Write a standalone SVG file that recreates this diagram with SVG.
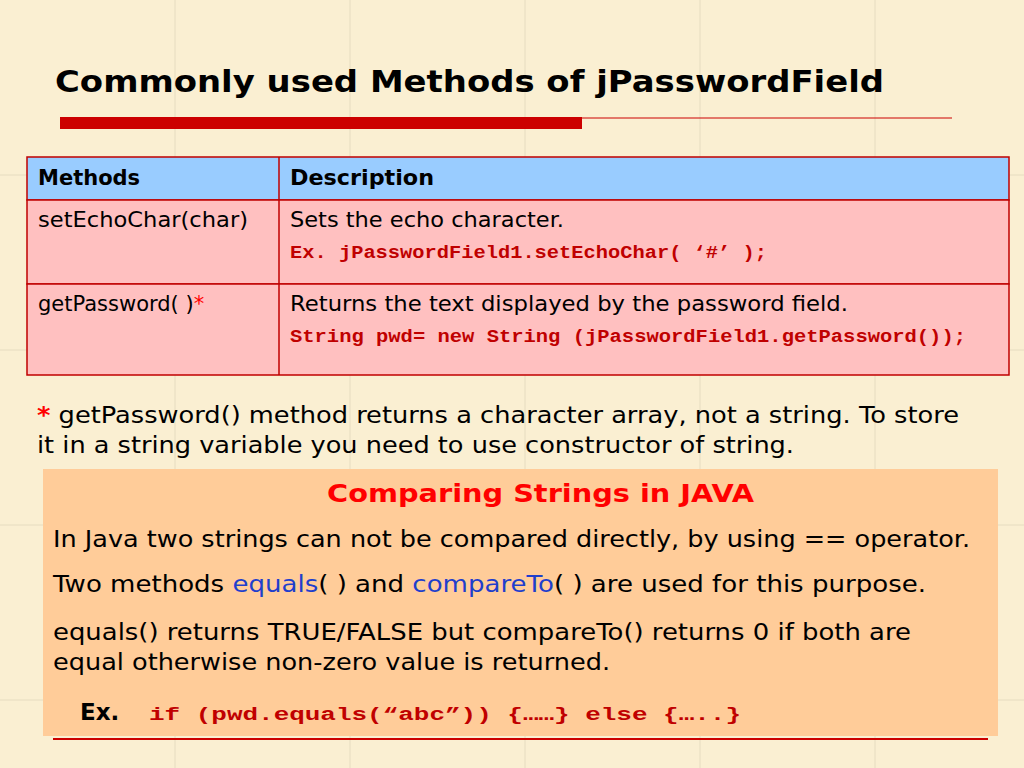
<svg xmlns="http://www.w3.org/2000/svg" width="1024" height="768" viewBox="0 0 1024 768">
<style>
.b{font-family:"DejaVu Sans",Verdana,sans-serif;fill:#000}
.m{font-family:"Liberation Mono",monospace;font-weight:bold;fill:#c00000;font-size:19px}
.g{stroke:#e6dcc0;stroke-width:1}
</style>
<rect width="1024" height="768" fill="#faefd2"/>
<g class="g">
<line x1="175" y1="0" x2="175" y2="768"/><line x1="350" y1="0" x2="350" y2="768"/><line x1="525" y1="0" x2="525" y2="768"/><line x1="700" y1="0" x2="700" y2="768"/><line x1="875" y1="0" x2="875" y2="768"/>
<line x1="0" y1="175" x2="1024" y2="175"/><line x1="0" y1="350" x2="1024" y2="350"/><line x1="0" y1="525" x2="1024" y2="525"/><line x1="0" y1="700" x2="1024" y2="700"/>
</g>
<g id="title">
<text x="55" y="92" class="b" font-size="30" font-weight="bold" textLength="829" lengthAdjust="spacingAndGlyphs">Commonly used Methods of jPasswordField</text>
<rect x="60" y="117" width="522" height="12" fill="#cc0000"/>
<line x1="582" y1="118" x2="952" y2="118" stroke="#cc0000" stroke-width="1"/>
</g>
<g id="table" stroke="#c00000" stroke-width="1.5">
<rect x="27" y="157" width="982" height="43" fill="#99ccff"/>
<rect x="27" y="200" width="982" height="84" fill="#ffc0c0"/>
<rect x="27" y="284" width="982" height="91" fill="#ffc0c0"/>
<line x1="279" y1="157" x2="279" y2="375"/>
</g>
<g id="tabletext">
<text x="38" y="185" class="b" font-size="21" font-weight="bold">Methods</text>
<text x="290" y="185" class="b" font-size="21" font-weight="bold" textLength="144" lengthAdjust="spacingAndGlyphs">Description</text>
<text x="38" y="227" class="b" font-size="21" textLength="210" lengthAdjust="spacingAndGlyphs">setEchoChar(char)</text>
<text x="290" y="227" class="b" font-size="21" textLength="274" lengthAdjust="spacingAndGlyphs">Sets the echo character.</text>
<text x="290" y="258" class="m" textLength="477" lengthAdjust="spacingAndGlyphs">Ex. jPasswordField1.setEchoChar( ‘#’ );</text>
<text x="38" y="311" class="b" font-size="21">getPassword( )<tspan fill="#ff0000">*</tspan></text>
<text x="290" y="311" class="b" font-size="21" textLength="558" lengthAdjust="spacingAndGlyphs">Returns the text displayed by the password field.</text>
<text x="290" y="342" class="m" textLength="676" lengthAdjust="spacingAndGlyphs">String pwd= new String (jPasswordField1.getPassword());</text>
</g>
<g id="note">
<text x="37" y="423" class="b" font-size="23" textLength="922" lengthAdjust="spacingAndGlyphs"><tspan fill="#ff0000" font-weight="bold">*</tspan> getPassword() method returns a character array, not a string. To store</text>
<text x="37" y="453" class="b" font-size="23" textLength="757" lengthAdjust="spacingAndGlyphs">it in a string variable you need to use constructor of string.</text>
</g>
<g id="box">
<rect x="43" y="469" width="955" height="267" fill="#ffcc99"/>
<line x1="53" y1="739" x2="988" y2="739" stroke="#cc0000" stroke-width="2"/>
<text x="327" y="502" class="b" font-size="25" font-weight="bold" style="fill:#ff0000" textLength="427" lengthAdjust="spacingAndGlyphs">Comparing Strings in JAVA</text>
<text x="53" y="547" class="b" font-size="23" textLength="917" lengthAdjust="spacingAndGlyphs">In Java two strings can not be compared directly, by using == operator.</text>
<text x="53" y="592" class="b" font-size="23" textLength="873" lengthAdjust="spacingAndGlyphs">Two methods  <tspan fill="#1f3fcc">equals</tspan>( ) and <tspan fill="#1f3fcc">compareTo</tspan>( ) are used for this purpose.</text>
<text x="53" y="640" class="b" font-size="23" textLength="858" lengthAdjust="spacingAndGlyphs">equals() returns TRUE/FALSE but compareTo() returns 0 if both are</text>
<text x="53" y="670" class="b" font-size="23" textLength="557" lengthAdjust="spacingAndGlyphs">equal otherwise non-zero value is returned.</text>
<text x="80" y="720" class="b" font-size="23" font-weight="bold">Ex.</text>
<text x="149" y="720" class="m" font-size="26" textLength="592" lengthAdjust="spacingAndGlyphs">if (pwd.equals(“abc”)) {……} else {…..}</text>
</g>
</svg>
